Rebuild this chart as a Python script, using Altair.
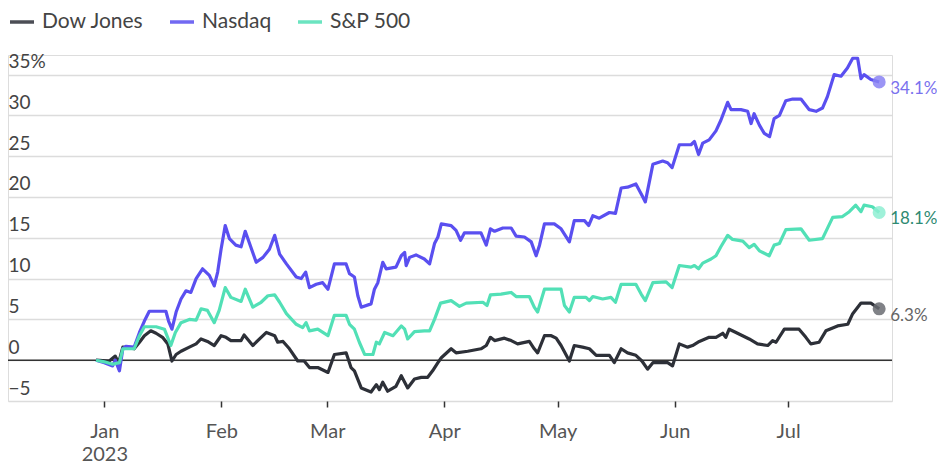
import altair as alt
import pandas as pd

series_names = ["Dow Jones", "Nasdaq", "S&P 500"]
line_colors = ["#2d3038", "#5a4ff0", "#52e0b6"]
dot_colors = ["#6a6c72", "#8a82f3", "#8eeed2"]
label_colors = ["#666666", "#7a71ee", "#2f8a72"]

# (days since 2023-01-01, % change year to date)
dow_points = [(-2.2,0.0),(1.3,-0.1),(2.9,0.5),(3.8,-0.3),(4.9,1.6),(7.9,1.4),(9.3,2.2),(10.6,3.0),(12.3,3.6),(13.7,3.3),(15.4,2.8),(16.8,2.0),(17.9,-0.1),(19.0,0.7),(20.3,1.1),(22.5,1.6),(24.3,2.0),(25.6,2.6),(27.3,2.3),(29.1,1.8),(30.9,3.0),(32.2,2.8),(33.5,2.4),(36.2,2.4),(37.0,3.1),(39.3,1.8),(41.3,2.7),(42.9,3.4),(45.1,3.0),(45.9,2.2),(47.3,2.3),(49.0,1.4),(51.2,-0.1),(52.9,-0.1),(54.3,-0.9),(56.5,-0.9),(59.2,-1.5),(60.9,0.7),(64.0,0.9),(65.3,-0.9),(66.2,-1.3),(68.0,-3.4),(70.6,-3.9),(72.0,-3.0),(72.8,-3.6),(73.7,-2.7),(75.0,-3.8),(77.2,-3.2),(78.6,-1.9),(79.5,-2.7),(80.3,-3.4),(82.1,-2.3),(83.9,-2.1),(85.6,-2.1),(86.9,-1.3),(88.3,-0.3),(89.2,0.3),(91.8,1.4),(93.1,0.9),(96.2,1.1),(99.7,1.4),(101.1,1.8),(102.2,2.8),(103.3,2.4),(105.9,2.7),(107.7,2.4),(109.4,2.0),(112.5,2.3),(113.8,1.4),(114.7,0.9),(116.5,3.0),(118.3,3.0),(119.6,2.7),(120.9,1.8),(123.1,-0.1),(124.4,1.8),(126.6,1.6),(128.4,1.4),(130.2,0.6),(133.7,0.6),(135.0,-0.3),(136.8,1.4),(138.5,0.9),(140.7,0.6),(142.3,-0.1),(143.8,-1.1),(145.2,-0.3),(149.1,-0.3),(150.4,-0.7),(152.2,2.0),(154.4,1.6),(155.7,1.8),(157.5,2.3),(160.1,2.8),(161.9,2.8),(163.7,3.3),(164.5,2.8),(165.4,3.8),(167.2,3.4),(170.7,2.6),(172.9,2.0),(175.6,1.8),(176.9,2.4),(177.8,2.2),(180.0,3.8),(183.9,3.8),(185.7,2.8),(187.0,2.0),(189.2,2.2),(191.0,3.6),(194.1,4.2),(196.8,4.4),(198.1,5.7),(200.3,7.0),(202.9,7.0),(205.1,6.3)]

nasdaq_points = [(-2.2,0.0),(0.0,-0.3),(2.2,-0.7),(2.9,0.0),(4.0,-1.3),(4.9,1.4),(5.7,1.7),(7.9,1.6),(9.3,3.4),(10.6,4.8),(11.9,6.0),(16.3,6.0),(17.0,4.8),(17.9,3.8),(19.0,5.9),(20.3,7.5),(21.6,8.5),(22.9,8.3),(24.3,10.0),(26.0,11.2),(27.8,10.4),(29.1,9.1),(30.0,10.8),(30.9,13.6),(32.0,16.5),(33.1,14.9),(34.8,14.1),(36.2,13.9),(37.3,15.8),(40.2,12.0),(42.0,12.6),(43.7,13.6),(45.1,15.3),(46.4,13.0),(48.2,11.8),(50.8,10.2),(52.1,10.0),(53.3,10.8),(54.3,8.9),(56.1,9.3),(57.8,9.5),(59.2,8.7),(60.9,11.8),(64.0,11.8),(64.9,10.6),(66.2,10.2),(67.1,7.9),(68.0,6.5),(70.6,6.9),(71.5,8.7),(72.4,9.5),(73.7,12.0),(74.6,11.2),(77.2,11.4),(78.6,12.8),(79.5,13.2),(79.9,11.6),(80.8,12.6),(82.5,12.9),(84.7,12.4),(86.1,11.8),(87.4,14.3),(88.3,15.1),(89.2,16.7),(91.8,16.5),(93.1,15.9),(94.3,14.7),(95.3,15.6),(99.7,15.6),(101.1,14.1),(102.2,16.1),(103.3,15.8),(105.5,16.2),(107.7,16.2),(109.0,15.2),(111.2,15.1),(113.0,14.5),(114.3,12.8),(115.2,14.1),(116.5,16.7),(119.1,16.7),(120.9,16.1),(123.1,14.5),(124.4,17.1),(127.1,17.1),(128.2,16.5),(129.3,17.7),(131.0,17.4),(133.7,18.1),(135.3,18.0),(136.8,21.1),(138.5,21.2),(140.7,21.6),(142.3,20.2),(143.2,19.4),(145.2,24.0),(147.8,24.4),(149.1,24.2),(150.3,23.6),(152.2,26.4),(155.3,26.4),(156.2,26.8),(157.3,25.2),(158.4,26.6),(160.1,27.0),(161.9,28.1),(163.2,29.4),(165.0,31.6),(165.9,30.7),(168.5,30.7),(170.3,30.5),(171.2,29.0),(172.0,30.2),(173.4,28.8),(174.7,27.8),(176.1,27.4),(177.3,29.6),(178.7,30.0),(180.4,31.8),(182.2,32.0),(184.4,32.0),(186.6,30.7),(188.4,30.5),(190.1,30.9),(191.4,32.3),(193.2,35.0),(195.0,34.8),(196.7,35.8),(198.1,37.0),(199.4,37.0),(200.3,34.5),(201.1,35.0),(202.9,34.4),(205.1,34.1)]

sp500_points = [(-2.2,0.0),(0.0,-0.2),(2.2,-0.5),(4.0,-0.3),(4.9,1.4),(7.9,1.4),(9.3,3.0),(10.6,4.1),(13.7,4.1),(15.9,3.8),(17.6,1.8),(18.8,3.4),(20.3,4.6),(22.5,5.0),(24.3,4.9),(25.6,6.3),(27.3,6.1),(29.1,4.6),(30.4,6.1),(32.0,8.9),(33.5,7.7),(36.2,7.2),(37.3,8.7),(39.3,6.5),(41.5,7.1),(43.3,7.9),(45.1,8.0),(46.4,7.1),(48.2,5.7),(50.8,4.4),(52.5,4.0),(53.4,4.6),(54.3,3.6),(56.5,3.8),(59.2,3.0),(60.9,5.5),(64.0,5.5),(64.9,4.4),(66.2,3.8),(67.5,2.2),(68.9,0.7),(71.1,0.7),(72.0,2.2),(72.8,2.0),(74.2,3.4),(76.4,3.0),(78.6,4.2),(79.5,3.8),(80.3,2.6),(82.1,3.5),(84.7,3.6),(86.1,3.6),(87.4,5.0),(89.0,7.0),(91.8,7.3),(94.0,6.6),(95.8,7.0),(100.2,7.1),(101.3,6.7),(102.2,8.0),(105.0,8.1),(107.7,8.3),(109.0,7.8),(112.5,7.8),(113.8,6.5),(114.7,5.9),(116.5,8.7),(119.1,8.7),(120.9,8.7),(121.8,6.7),(123.1,5.9),(124.4,7.7),(127.5,7.7),(128.4,7.3),(129.3,7.8),(131.9,7.5),(134.1,7.7),(135.3,7.1),(136.8,9.3),(140.7,9.3),(142.1,8.1),(143.2,7.3),(145.2,9.5),(148.7,9.6),(150.3,8.9),(152.2,11.6),(155.3,11.4),(156.2,11.6),(157.3,11.2),(158.4,11.9),(160.6,12.4),(161.9,12.8),(163.2,13.9),(165.0,15.3),(166.3,14.8),(169.0,14.6),(170.7,13.8),(172.0,14.2),(173.4,13.4),(176.0,12.8),(177.3,14.1),(178.7,14.3),(180.4,16.0),(184.4,16.1),(186.6,14.7),(190.1,14.9),(192.8,17.5),(195.4,17.6),(197.2,18.2),(198.9,19.0),(200.3,18.2),(201.1,19.0),(203.3,18.8),(205.1,18.1)]

y_ticks = [-5, 0, 5, 10, 15, 20, 25, 30, 35]
month_ticks = [1, 2, 3, 4, 5, 6, 7]

FONT = "Lato"
base = pd.Timestamp("2023-01-01")

frames = []
ends = []
for i, (name, pts) in enumerate(zip(series_names, [dow_points, nasdaq_points, sp500_points])):
    days = [p[0] for p in pts]
    vals = [p[1] for p in pts]
    dates = base + pd.to_timedelta(days, unit="D")
    frames.append(pd.DataFrame({"series": name, "date": dates, "pct": vals}))
    ends.append({"series": name, "date": dates[-1], "pct": vals[-1],
                 "label": f"{vals[-1]:.1f}%", "dot": dot_colors[i], "lab": label_colors[i]})
df = pd.concat(frames, ignore_index=True)
end_df = pd.DataFrame(ends)

x_scale = alt.Scale(domain=[alt.DateTime(year=2022, month=12, date=6, hours=12),
                            alt.DateTime(year=2023, month=7, date=28, hours=12)])
y_scale = alt.Scale(domain=[-5, 37.4], nice=False, zero=False)

x_axis = alt.Axis(
    values=[alt.DateTime(year=2023, month=m, date=1) for m in month_ticks],
    labelExpr="month(datum.value) == 0 ? [timeFormat(datum.value, '%b'), timeFormat(datum.value, '%Y')] : timeFormat(datum.value, '%b')",
    title=None, grid=False, domain=False, ticks=True, tickColor="#333333",
    tickSize=6, tickWidth=1.5, labelPadding=14, labelFontSize=20,
    labelColor="#555555", labelLineHeight=23, labelFont=FONT,
)
y_axis = alt.Axis(
    values=y_ticks, title=None, orient="left", domain=False, ticks=False,
    grid=True, gridColor="#dcdcdc", gridWidth=1.5,
    labelAlign="left", labelBaseline="alphabetic", labelPadding=0, labelOffset=-7,
    labelFontSize=19, labelColor="#444444", labelFont=FONT,
    labelExpr="datum.value == 35 ? '35%' : datum.label",
)

lines = alt.Chart(df).mark_line(strokeWidth=3.2, strokeJoin="round").encode(
    x=alt.X("date:T", scale=x_scale, axis=x_axis),
    y=alt.Y("pct:Q", scale=y_scale, axis=y_axis),
    color=alt.Color("series:N",
                    scale=alt.Scale(domain=series_names, range=line_colors),
                    legend=alt.Legend(title=None, orient="none", legendX=0, legendY=-47,
                                      direction="horizontal", symbolType="stroke",
                                      symbolSize=576, symbolStrokeWidth=3.5,
                                      labelFontSize=21, labelColor="#444444", labelFont=FONT,
                                      labelOffset=6, columnPadding=19)),
    detail="series:N",
)

zero = alt.Chart(pd.DataFrame({"v": [0]})).mark_rule(color="#333333", strokeWidth=1.5).encode(
    y=alt.Y("v:Q", scale=y_scale)
)

dots = alt.Chart(end_df).mark_circle(size=170, opacity=0.85).encode(
    x="date:T", y="pct:Q", color=alt.Color("dot:N", scale=None)
)
labels = alt.Chart(end_df).mark_text(align="left", baseline="middle", dx=11, dy=7,
                                      fontSize=17, font=FONT).encode(
    x="date:T", y="pct:Q", text="label:N", color=alt.Color("lab:N", scale=None)
)

chart = alt.layer(zero, lines, dots, labels).properties(
    width=884, height=346,
    autosize=alt.AutoSizeParams(type="none"),
    padding={"left": 0, "top": 47, "right": 45, "bottom": 63},
).configure_view(stroke=None).configure(font=FONT)

chart.save("out.html", embed_options={"renderer": "svg", "actions": False})
